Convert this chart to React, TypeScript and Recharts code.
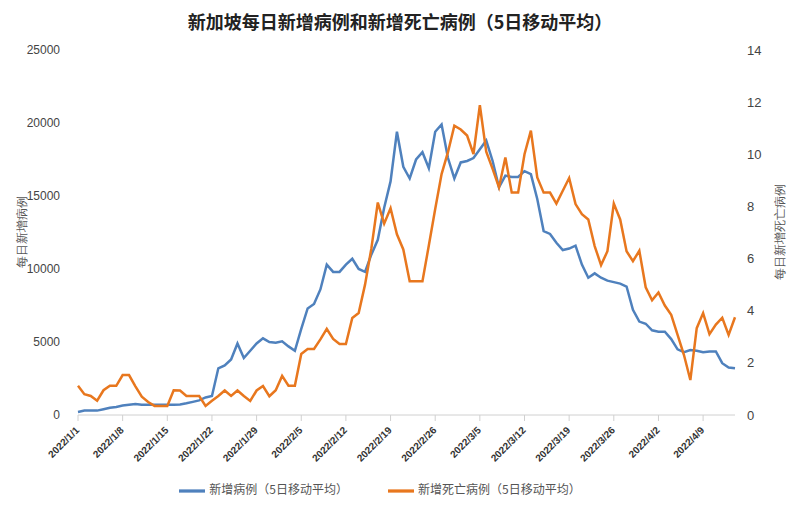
import React from "react"
import {
  LineChart,
  Line,
  XAxis,
  YAxis,
  Legend,
} from "recharts"

const cases = [
  200, 300, 300, 300, 400, 500, 550, 650, 700, 750,
  700, 700, 700, 700, 700, 700, 720, 800, 900, 1000,
  1200, 1300, 3200, 3400, 3800, 4900, 3900, 4400, 4900, 5250,
  5000, 4950, 5050, 4700, 4400, 5900, 7300, 7600, 8600, 10300,
  9800, 9800, 10300, 10700, 10000, 9800, 11000, 12000, 14200, 16000,
  19400, 17000, 16200, 17500, 18000, 16900, 19400, 19900, 17600, 16200,
  17300, 17400, 17600, 18200, 18800, 17400, 15600, 16400, 16300, 16300,
  16700, 16500, 14800, 12600, 12400, 11800, 11300, 11400, 11600, 10300,
  9400, 9700, 9400, 9200, 9100, 9000, 8800, 7200, 6400, 6250,
  5800, 5700, 5700, 5200, 4500, 4300, 4450, 4400, 4300, 4350,
  4350, 3550, 3250, 3200,
]

const deaths = [
  1.12, 0.8, 0.73, 0.55, 0.95, 1.12, 1.12, 1.53, 1.53, 1.1,
  0.7, 0.5, 0.35, 0.35, 0.35, 0.95, 0.94, 0.73, 0.73, 0.73,
  0.35, 0.55, 0.73, 0.94, 0.73, 0.94, 0.73, 0.54, 0.94, 1.11,
  0.72, 0.95, 1.5, 1.12, 1.12, 2.34, 2.53, 2.53, 2.9, 3.3,
  2.92, 2.72, 2.72, 3.72, 3.91, 5.0, 6.4, 8.15, 7.34, 7.93,
  6.93, 6.35, 5.13, 5.13, 5.13, 6.5, 7.9, 9.24, 10.08, 11.1,
  10.95, 10.72, 10.01, 11.88, 10.1, 9.44, 8.73, 9.88, 8.53, 8.53,
  10.0, 10.91, 9.11, 8.53, 8.53, 8.11, 8.6, 9.09, 8.09, 7.7,
  7.5, 6.48, 5.75, 6.28, 8.11, 7.5, 6.28, 5.9, 6.3, 4.9,
  4.4, 4.7, 4.2, 3.84, 3.07, 2.3, 1.34, 3.33, 3.91, 3.1,
  3.47, 3.73, 3.07, 3.75,
]

// 2022/1/1 onward, one label per day
const dates = cases.map((_, i) => {
  const d = new Date(2022, 0, 1 + i)
  return `${d.getFullYear()}/${d.getMonth() + 1}/${d.getDate()}`
})
const dateTicks = dates.filter((_, i) => i % 7 === 0)

const leftTicks = [0, 5000, 10000, 15000, 20000, 25000]
const rightTicks = [0, 2, 4, 6, 8, 10, 12, 14]

const data = dates.map((date, i) => ({ date, cases: cases[i], deaths: deaths[i] }))

const font = "'Microsoft YaHei', 'Noto Sans CJK SC', sans-serif"
const BLUE = "#4f81bd"
const ORANGE = "#e8771e"

function DateTick({ x, y, payload }: any) {
  return (
    <text
      x={x}
      y={y + 6}
      transform={`rotate(-45 ${x} ${y + 6})`}
      textAnchor="end"
      dominantBaseline="middle"
      fontSize={10}
      fontWeight="bold"
      fill="#333"
      fontFamily="Arial, sans-serif"
    >
      {payload.value}
    </text>
  )
}

export default function App() {
  return (
    <div style={{ position: "absolute", left: 0, top: 0, width: 800, height: 506, background: "#fff", fontFamily: font }}>
      <div style={{ position: "absolute", top: 8, width: 800, textAlign: "center", fontSize: 18, fontWeight: "bold", color: "#222" }}>
        新加坡每日新增病例和新增死亡病例（5日移动平均）
      </div>
      <div style={{ position: "absolute", left: 22, top: 232, transform: "translate(-50%,-50%) rotate(-90deg)", fontSize: 12, color: "#555", whiteSpace: "nowrap", fontFamily: "serif" }}>
        每日新增病例
      </div>
      <div style={{ position: "absolute", left: 780, top: 232, transform: "translate(-50%,-50%) rotate(-90deg)", fontSize: 12, color: "#555", whiteSpace: "nowrap", fontFamily: "serif" }}>
        每日新增死亡病例
      </div>
      <LineChart width={800} height={506} data={data} margin={{ top: 50, right: 0, left: 0, bottom: 5 }}>
        <XAxis
          dataKey="date"
          ticks={dateTicks}
          interval={0}
          tick={<DateTick />}
          height={60}
          stroke="#d0d0d0"
          tickLine={{ stroke: "#d0d0d0" }}
          padding={{ left: 0, right: 0 }}
        />
        <YAxis
          yAxisId="l"
          width={78}
          domain={[0, 25000]}
          ticks={leftTicks}
          axisLine={false}
          tickLine={false}
          tick={{ fontSize: 12, fill: "#444", fontFamily: "Arial, sans-serif" }}
          tickMargin={12}
        />
        <YAxis
          yAxisId="r"
          orientation="right"
          width={65}
          domain={[0, 14]}
          ticks={rightTicks}
          axisLine={false}
          tickLine={false}
          tick={{ fontSize: 13, fill: "#444", fontFamily: "Arial, sans-serif" }}
          tickMargin={6}
        />
        <Legend
          verticalAlign="bottom"
          iconType="plainline"
          iconSize={26}
          itemSorter="dataKey"
          wrapperStyle={{ fontSize: 12, color: "#555", bottom: 2 }}
          formatter={(v: string) => <span style={{ color: "#555", marginRight: 30 }}>{v}</span>}
        />
        <Line
          yAxisId="l"
          dataKey="cases"
          name="新增病例（5日移动平均）"
          stroke={BLUE}
          strokeWidth={2.5}
          dot={false}
          isAnimationActive={false}
        />
        <Line
          yAxisId="r"
          dataKey="deaths"
          name="新增死亡病例（5日移动平均）"
          stroke={ORANGE}
          strokeWidth={2.5}
          dot={false}
          isAnimationActive={false}
        />
      </LineChart>
    </div>
  )
}
